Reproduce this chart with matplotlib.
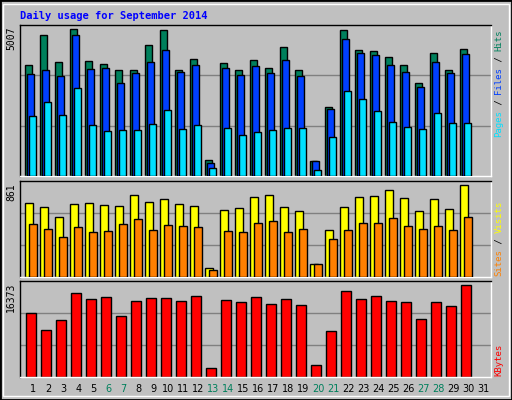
import matplotlib
matplotlib.use("Agg")
import matplotlib.pyplot as plt
from matplotlib.patches import Rectangle
import numpy as np

days = list(range(1, 31))
hits = [3675,4666,3774,4864,3808,3708,3510,3510,4336,4831,3510,3874,539,3742,3510,3841,3577,4270,3510,506,2289,4831,4171,4138,3940,3675,3081,4072,3510,4204]
files = [3378,3510,3312,4666,3543,3577,3081,3411,3774,4171,3444,3675,440,3577,3345,3642,3411,3841,3312,506,2223,4534,4072,4006,3675,3444,2949,3774,3411,4039]
pages = [1992,2454,2025,2916,1695,1497,1530,1530,1728,2190,1563,1695,275,1596,1365,1464,1530,1596,1596,209,1299,2817,2553,2157,1794,1629,1563,2091,1761,1761]
visits = [655,619,538,646,655,637,628,727,664,691,646,628,72,592,610,709,727,619,583,108,413,619,709,718,780,700,583,691,601,825]
sites = [475,422,350,440,395,404,475,520,413,466,449,440,54,404,395,484,502,395,422,108,332,413,484,484,529,449,422,449,413,538]
kbytes = [10878,7958,9675,14313,13282,13626,10362,12939,13454,13454,12939,13797,1431,13110,12767,13626,12423,13282,12252,1947,7786,14656,13282,13797,12939,12767,9847,12767,12080,15687]
max_hits, max_visits, max_kb = 5007, 861, 16373
weekend = [6, 7, 13, 14, 20, 21, 27, 28]

W, H = 512, 400
fig = plt.figure(figsize=(W/100, H/100), dpi=100)
fig.patch.set_facecolor("#c0c0c0")
mono = "DejaVu Sans Mono"

def fx(px): return px / W
def fy(py): return 1 - py / H

# outer border
fig.add_artist(Rectangle((0, 0), 1, 1, transform=fig.transFigure, fill=False, ec="black", lw=2))
fig.add_artist(Rectangle((fx(3), fy(396)), fx(506), 392/H, transform=fig.transFigure, fill=False, ec="white", lw=1))

x = np.array(days)
x0, x1 = 1 - 13.3/15, 1 - 13.3/15 + 471/15

def make_ax(top, bottom, ymax):
    ax = fig.add_axes([fx(20), fy(bottom), fx(471), (bottom - top)/H])
    ax.set_facecolor("#c0c0c0")
    ax.set_xlim(x0, x1)
    ax.set_ylim(0, ymax * (1.0))
    for g in (ymax/3, 2*ymax/3):
        ax.axhline(g, color="#808080", lw=1, zorder=0)
    ax.set_xticks([]); ax.set_yticks([])
    for s in ax.spines.values():
        s.set_color("black"); s.set_linewidth(1)
    ax.spines["bottom"].set_color("white")
    ax.spines["right"].set_color("white")
    return ax

ax1 = make_ax(25, 176.5, max_hits)
ax1.bar(x - 0.3, hits, width=7/15, align="center", color="#00805c", ec="black", lw=1, zorder=2)
ax1.bar(x - 0.165, files, width=7/15, color="#0040ff", ec="black", lw=1, zorder=3)
ax1.bar(x - 0.035, pages, width=7/15, color="#00e0ff", ec="black", lw=1, zorder=4)

ax2 = make_ax(180.5, 276.5, max_visits)
ax2.bar(x - 0.3, visits, width=8/15, color="#ffff00", ec="black", lw=1, zorder=2)
ax2.bar(x - 0.05, sites, width=8/15, color="#ff8000", ec="black", lw=1, zorder=3)

ax3 = make_ax(281, 376.5, max_kb)
ax3.bar(x - 0.13, kbytes, width=10/15, color="#ff0000", ec="black", lw=1, zorder=2)

# title
fig.text(fx(20), fy(16), "Daily usage for September 2014", color="#0000ff", fontsize=7.5,
         family=mono, fontweight="bold", va="center", ha="left")

# y max labels
for val, top in ((max_hits, 25), (max_visits, 181), (max_kb, 281)):
    fig.text(fx(11), fy(top + 2), str(val), rotation=90, fontsize=7, family=mono,
             va="top", ha="center", color="black")

# right vertical labels
def vlabel(bottom, parts, cw=5.4):
    y = bottom
    for txt, col in parts:
        n = len(txt)
        fig.text(fx(499), fy(y - n*cw/2), txt, rotation=90, fontsize=6.5, family=mono,
                 color=col, va="center", ha="center")
        y -= n*cw

vlabel(137, [("Pages", "#00e0ff"), (" / ", "black"), ("Files", "#0040ff"), (" / ", "black"), ("Hits", "#00805c")])
vlabel(276, [("Sites", "#ff8000"), (" / ", "black"), ("Visits", "#ffff00")])
vlabel(376, [("KBytes", "#ff0000")])

# day labels
for d in range(1, 32):
    px = 20 + (d - x0) * 15
    fig.text(fx(px), fy(389), str(d), fontsize=7, family="DejaVu Sans",
             color="#00805c" if d in weekend else "black", ha="center", va="center")

fig.savefig("out.png", dpi=100, facecolor=fig.get_facecolor())
